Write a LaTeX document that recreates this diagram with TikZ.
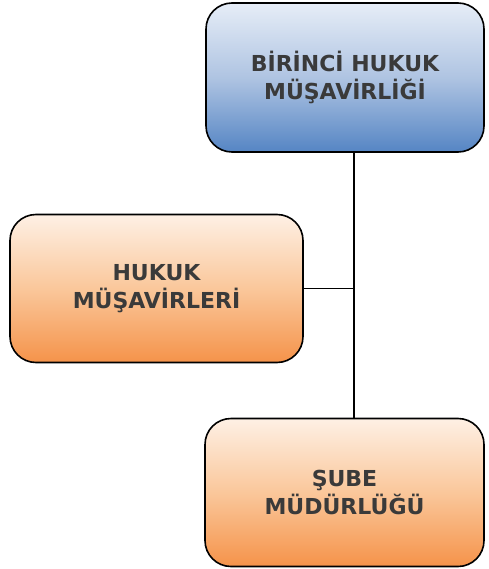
\documentclass[tikz,border=0pt]{standalone}
\usepackage{fontspec}
\setmainfont{DejaVu Sans}
\usepackage{xcolor}
\usepackage{tikz}
\usetikzlibrary{positioning,calc}

\definecolor{txtgray}{HTML}{3A3A3A}
\definecolor{bluetop}{HTML}{E6EDF7}
\definecolor{bluemid}{HTML}{AFC4E2}
\definecolor{bluebot}{HTML}{5585C4}
\definecolor{ortop}{HTML}{FEF0E5}
\definecolor{ormid}{HTML}{FAC79B}
\definecolor{orbot}{HTML}{F5934A}

\begin{document}
\begin{tikzpicture}[x=1pt, y=1pt,
  box/.style={draw=black, line width=1.6pt, rounded corners=26pt, align=center,
    font=\fontsize{22}{28}\selectfont\bfseries, text=txtgray},
  blubox/.style={box, minimum width=278pt, minimum height=149pt,
    top color=bluetop, bottom color=bluebot, middle color=bluemid},
  orbox/.style={box, minimum width=279pt, minimum height=148pt,
    top color=ortop, bottom color=orbot, middle color=ormid},
  conn/.style={line width=1.3pt, black}
]
\useasboundingbox (0,0) rectangle (488,-569);

\node[blubox] (bhm) at (345,-77.5) {BİRİNCİ HUKUK\\MÜŞAVİRLİĞİ};
\node[orbox, minimum width=293pt] (hm) at (156.5,-288.5) {HUKUK\\MÜŞAVİRLERİ};
\node[orbox] (sm) at (344.5,-492.5) {ŞUBE\\MÜDÜRLÜĞÜ};

\coordinate (spine) at (354,0);
\draw[conn] (bhm.south -| spine) -- (sm.north -| spine);
\draw[conn] (hm.east) -- (hm.east -| spine);
\end{tikzpicture}
\end{document}
